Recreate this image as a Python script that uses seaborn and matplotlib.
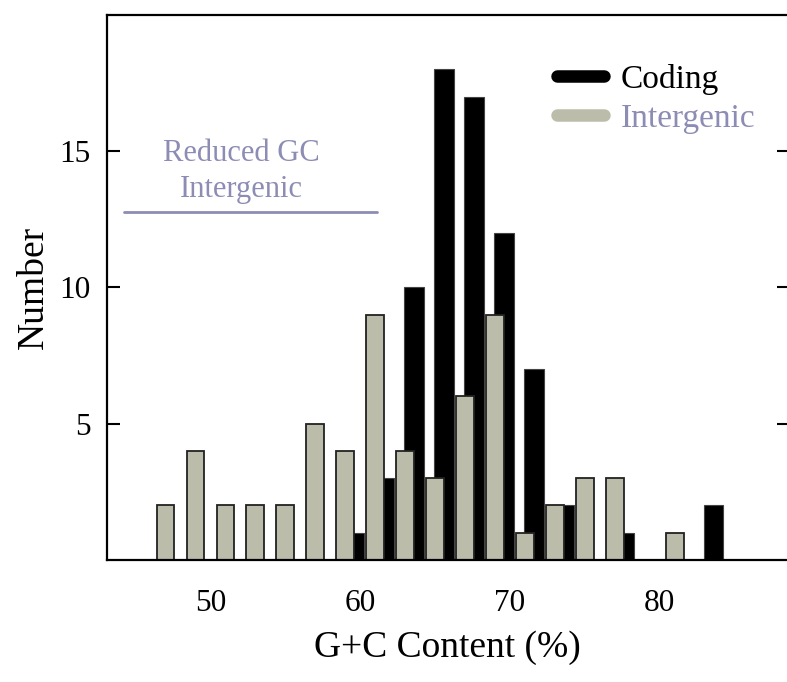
import matplotlib
matplotlib.use('Agg')
import matplotlib.pyplot as plt
import seaborn as sns
from matplotlib.lines import Line2D

# bin centres (G+C %) and counts
intergenic_x = [47, 49, 51, 53, 55, 57, 59, 61, 63, 65, 67, 69, 71, 73, 75, 77, 81]
intergenic_n = [2, 4, 2, 2, 2, 5, 4, 9, 4, 3, 6, 9, 1, 2, 3, 3, 1]

coding_x = [59.6, 61.6, 63.6, 65.6, 67.6, 69.6, 71.6, 73.6, 77.6, 83.6]
coding_n = [1, 3, 10, 18, 17, 12, 7, 2, 1, 2]

x_ticks = [50, 60, 70, 80]
y_ticks = [5, 10, 15]

gray = '#bcbcaa'
lavender = '#8c8cb4'

sns.set_style('white')
plt.rcParams['font.family'] = ['Liberation Serif', 'DejaVu Serif']
plt.rcParams['text.color'] = 'black'
plt.rcParams['axes.labelcolor'] = 'black'
plt.rcParams['xtick.color'] = 'black'
plt.rcParams['ytick.color'] = 'black'

fig = plt.figure(figsize=(7.87, 6.82), dpi=100)
ax = fig.add_axes([0.136, 0.179, 0.866, 0.799])

# coding bars first, intergenic drawn on top
sns.barplot(x=coding_x, y=coding_n, native_scale=True, width=0.65,
            color='black', saturation=1, edgecolor='#444444', linewidth=0.8, ax=ax)
sns.barplot(x=intergenic_x, y=intergenic_n, native_scale=True, width=0.59,
            color=gray, saturation=1, edgecolor='#222222', linewidth=1.3, ax=ax)

ax.set_xlim(43.1, 88.6)
ax.set_ylim(0, 20)
ax.set_xticks(x_ticks)
ax.set_yticks(y_ticks)
ax.tick_params(axis='x', direction='out', length=9, width=1.5, labelsize=22.5, pad=12)
ax.tick_params(axis='y', direction='in', length=9, width=1.5, labelsize=22.5,
               left=True, right=True, pad=12)
for s in ['left', 'bottom', 'top']:
    ax.spines[s].set_linewidth(1.6)
    ax.spines[s].set_color('black')
ax.spines['right'].set_visible(False)

ax.set_xlabel('G+C Content (%)', fontsize=27, labelpad=9)
ax.set_ylabel('Number', fontsize=27, labelpad=6)

# annotation for the reduced GC region
ax.plot([44.25, 61.1], [12.78, 12.78], color=lavender, lw=2)
ax.text(52.1, 14.25, 'Reduced GC\nIntergenic', color=lavender, fontsize=22,
        ha='center', va='center', linespacing=1.3)

handles = [Line2D([], [], color='black', lw=9, solid_capstyle='round'),
           Line2D([], [], color=gray, lw=9, solid_capstyle='round')]
leg = ax.legend(handles, ['Coding', 'Intergenic'], loc='upper left',
                bbox_to_anchor=(0.641, 0.935), frameon=False, fontsize=24,
                handlelength=1.4, handletextpad=0.5, labelspacing=0.25,
                borderaxespad=0)
leg.get_texts()[1].set_color(lavender)

fig.savefig('out.png', dpi=100)
